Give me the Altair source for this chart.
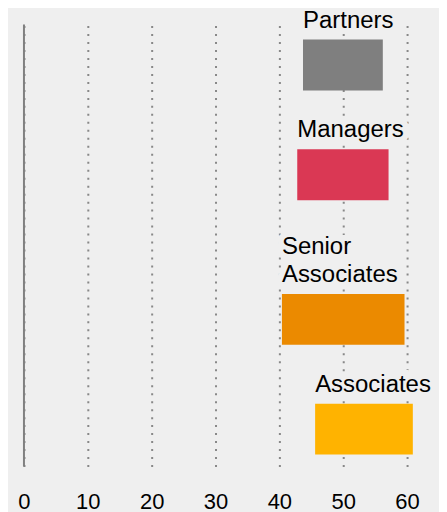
import altair as alt
import pandas as pd

# ---- data ----
categories = ["Partners", "Managers", "Senior Associates", "Associates"]
label_lines = [["Partners"], ["Managers"], ["Senior", "Associates"], ["Associates"]]
starts = [43.7, 42.8, 40.4, 45.6]
ends = [56.2, 57.1, 59.6, 60.9]
colors = ["#7f7f7f", "#da3854", "#eb8a00", "#ffb300"]
tick_values = [0, 10, 20, 30, 40, 50, 60]

# ---- layout (rows grow with the number of label lines) ----
BG = "#efefef"
PLOT_H = 443
FIRST_BAR_TOP = 15
ROW_BASE = 75
LINE_STEP = 35
BAR_H = 51
LABEL_GAP = 12
LINE_H = 28

rows = []
top = FIRST_BAR_TOP
for i, cat in enumerate(categories):
    n = len(label_lines[i])
    if i > 0:
        top += ROW_BASE + LINE_STEP * n
    rows.append({
        "category": cat,
        "label": "\n".join(label_lines[i]),
        "start": starts[i],
        "end": ends[i],
        "bar_top": top,
        "bar_bottom": top + BAR_H,
        "label_y": top - LABEL_GAP - (n - 1) * LINE_H,
    })
df = pd.DataFrame(rows)

xscale = alt.Scale(domain=[0, 65], nice=False, zero=True)
yscale = alt.Scale(domain=[0, PLOT_H], reverse=True, nice=False, zero=False)
xaxis = alt.Axis(values=tick_values, title=None, grid=True,
                 gridDash=[2, 6], gridColor="#888888", gridWidth=2,
                 domain=False, ticks=False, labelPadding=25,
                 labelFlush=False, labelOverlap=False,
                 labelFontSize=22, labelColor="#000000",
                 labelFont="Liberation Sans")

base = alt.Chart(df)

zero_rule = base.transform_aggregate(
    zero="min(start)"
).transform_calculate(
    zero="0"
).mark_rule(color="#808080", strokeWidth=2).encode(
    x=alt.X("zero:Q", scale=xscale, axis=xaxis),
)

bars = base.mark_bar().encode(
    x=alt.X("start:Q", scale=xscale, axis=xaxis),
    x2="end:Q",
    y=alt.Y("bar_top:Q", scale=yscale, axis=None),
    y2="bar_bottom:Q",
    color=alt.Color("category:N", scale=alt.Scale(domain=categories, range=colors), legend=None),
)

text_kw = dict(align="left", baseline="alphabetic", fontSize=24,
               font="Liberation Sans", lineHeight=LINE_H, lineBreak="\n")

halo = base.mark_text(stroke=BG, strokeWidth=12, fill=BG, **text_kw).encode(
    x=alt.X("start:Q", scale=xscale, axis=xaxis),
    y=alt.Y("label_y:Q", scale=yscale, axis=None),
    text="label:N",
)

labels = base.mark_text(color="#000000", **text_kw).encode(
    x=alt.X("start:Q", scale=xscale, axis=xaxis),
    y=alt.Y("label_y:Q", scale=yscale, axis=None),
    text="label:N",
)

chart = alt.layer(zero_rule, halo, bars, labels).properties(
    width=416,
    height=PLOT_H,
    padding={"left": 16, "top": 16, "right": 0, "bottom": 50},
    autosize=alt.AutoSizeParams(type="none"),
    background=BG,
).configure_view(stroke=None)

chart.save("out.html", embed_options={"renderer": "svg", "actions": False})
